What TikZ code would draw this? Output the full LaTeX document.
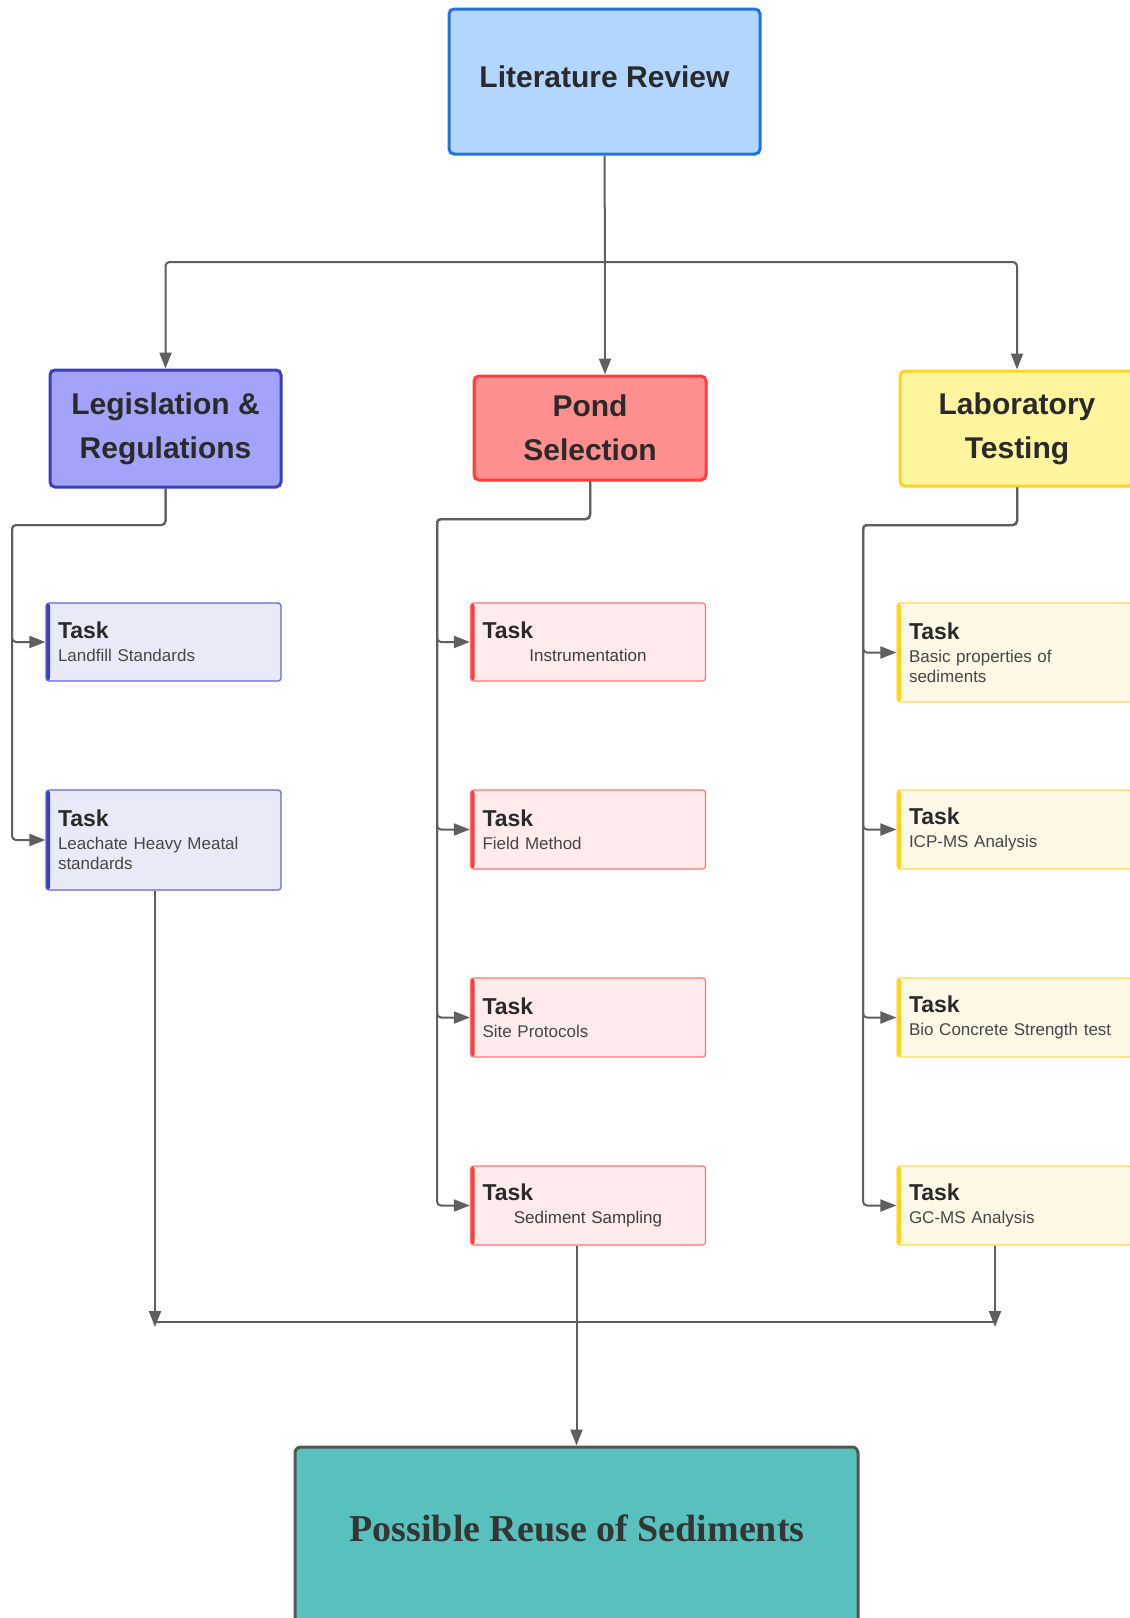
\documentclass[tikz,border=0pt]{standalone}
\usepackage{fontspec}
\setmainfont{Liberation Sans}
\newfontfamily\finalfont{Liberation Serif}
\usetikzlibrary{arrows.meta}
\definecolor{linegray}{HTML}{5F5F5F}
\definecolor{txtdark}{HTML}{2A2A2A}
\definecolor{txtsub}{HTML}{474747}
\definecolor{litfill}{HTML}{B3D6FF}
\definecolor{litdraw}{HTML}{1F74E0}
\definecolor{legfill}{HTML}{A3A3FA}
\definecolor{legdraw}{HTML}{3D3DC4}
\definecolor{pondfill}{HTML}{FF8F8F}
\definecolor{ponddraw}{HTML}{FF3D3D}
\definecolor{labfill}{HTML}{FFF59E}
\definecolor{labdraw}{HTML}{FFD21F}
\definecolor{tlfill}{HTML}{E8EAF8}
\definecolor{tldraw}{HTML}{6464D8}
\definecolor{tmfill}{HTML}{FFEBEB}
\definecolor{tmdraw}{HTML}{FF7373}
\definecolor{trfill}{HTML}{FFF8E6}
\definecolor{trdraw}{HTML}{FFDA4D}
\definecolor{finfill}{HTML}{59C1BD}
\definecolor{findraw}{HTML}{555555}
\newcommand\tasktext[1]{{\fontsize{23}{25}\selectfont\bfseries\color{txtdark}Task}\\[3pt]#1}
\begin{document}
\begin{tikzpicture}[x=1pt,y=-1pt,
  header/.style={rectangle, rounded corners=5pt, line width=3pt, align=center,
    text=txtdark, font=\fontsize{30}{44}\selectfont\bfseries},
  taskbox/.style n args={3}{rectangle, rounded corners=3pt, line width=1.2pt,
    fill=#1, draw=#2, text width=211pt, inner xsep=12pt, inner ysep=4pt,
    minimum width=235pt, align=left, text=txtsub,
    font=\fontsize{17}{20}\selectfont,
    path picture={\fill[#3] (path picture bounding box.north west) rectangle
      ([xshift=4pt]path picture bounding box.south west);}},
  tL/.style={taskbox={tlfill}{tldraw}{legdraw}},
  tM/.style={taskbox={tmfill}{tmdraw}{ponddraw}},
  tR/.style={taskbox={trfill}{trdraw}{labdraw}},
  conn/.style={draw=linegray, line width=2pt, rounded corners=4pt},
  arr/.style={conn, -{Triangle[length=16pt,width=12pt]}}
]
\clip (0,0) rectangle (1130,1618);
\fill[white] (0,0) rectangle (1130,1618);

% headers
\node[header, fill=litfill, draw=litdraw, minimum width=311pt, minimum height=145pt,
  text height=22pt, text depth=11pt]
  (lit) at (604.5,81.5) {Literature Review};
\node[header, fill=legfill, draw=legdraw, minimum width=231pt, minimum height=117pt]
  (leg) at (165.5,428.5) {Legislation \&\\Regulations};
\node[header, fill=pondfill, draw=ponddraw, minimum width=232pt, minimum height=104pt]
  (pond) at (590,428) {Pond\\Selection};
\node[header, fill=labfill, draw=labdraw, minimum width=234pt, minimum height=115pt]
  (lab) at (1017,428.5) {Laboratory\\Testing};

% left tasks
\node[tL, minimum height=78pt] (L1) at (163.5,642) {\tasktext{Landfill Standards}};
\node[tL, minimum height=100pt] (L2) at (163.5,840) {\tasktext{Leachate Heavy Meatal\\standards}};

% middle tasks
\node[tM, minimum height=78pt] (M1) at (588,642) {\tasktext{\makebox[211pt][c]{\color{txtdark!90}Instrumentation}}};
\node[tM, minimum height=79pt] (M2) at (588,829.5) {\tasktext{Field Method}};
\node[tM, minimum height=79pt] (M3) at (588,1017.5) {\tasktext{Site Protocols}};
\node[tM, minimum height=79pt] (M4) at (588,1205.5) {\tasktext{\makebox[211pt][c]{\color{txtdark!90}Sediment Sampling}}};

% right tasks
\node[tR, minimum height=99pt] (R1) at (1014.5,652.5) {\tasktext{Basic properties of\\sediments}};
\node[tR, minimum height=79pt] (R2) at (1014.5,829.5) {\tasktext{ICP-MS Analysis}};
\node[tR, minimum height=79pt] (R3) at (1014.5,1017.5) {\tasktext{Bio Concrete Strength test}};
\node[tR, minimum height=79pt] (R4) at (1014.5,1205.5) {\tasktext{GC-MS Analysis}};

% final
\node[rectangle, rounded corners=6pt, fill=finfill, draw=findraw, line width=3pt,
  minimum width=563pt, minimum height=192pt] (fin) at (576.5,1543) {};
\node[text=txtdark!95, font=\finalfont\fontsize{38}{44}\selectfont\bfseries]
  (fintext) at (577,1528) {Possible Reuse of Sediments};

% coordinates
\coordinate (hub) at (605,262);
\coordinate (lbus) at (12,525);
\coordinate (mbus) at (437,519);
\coordinate (rbus) at (863,525);
\coordinate (al) at (155,1327);
\coordinate (ar) at (995,1327);
\coordinate (hl) at (155,1322);
\coordinate (hr) at (995,1322);

% top connectors
\draw[conn] (lit.south) -- (hub);
\draw[arr] (hub) -| (leg.north);
\draw[arr] (hub) -- (hub |- pond.north);
\draw[arr] (hub) -| (lab.north);

% task connectors
\draw[arr] (leg.south) |- (lbus) |- (L1.west);
\draw[arr] (leg.south) |- (lbus) |- (L2.west);
\draw[arr] (pond.south) |- (mbus) |- (M1.west);
\draw[arr] (pond.south) |- (mbus) |- (M2.west);
\draw[arr] (pond.south) |- (mbus) |- (M3.west);
\draw[arr] (pond.south) |- (mbus) |- (M4.west);
\draw[arr] (lab.south) |- (rbus) |- (R1.west);
\draw[arr] (lab.south) |- (rbus) |- (R2.west);
\draw[arr] (lab.south) |- (rbus) |- (R3.west);
\draw[arr] (lab.south) |- (rbus) |- (R4.west);

% bottom connectors
\draw[conn] (hl) -- (hr);
\draw[arr] (L2.south -| al) -- (al);
\draw[arr] (R4.south -| ar) -- (ar);
\draw[arr] (fin.north |- M4.south) -- (fin.north);
\end{tikzpicture}
\end{document}
